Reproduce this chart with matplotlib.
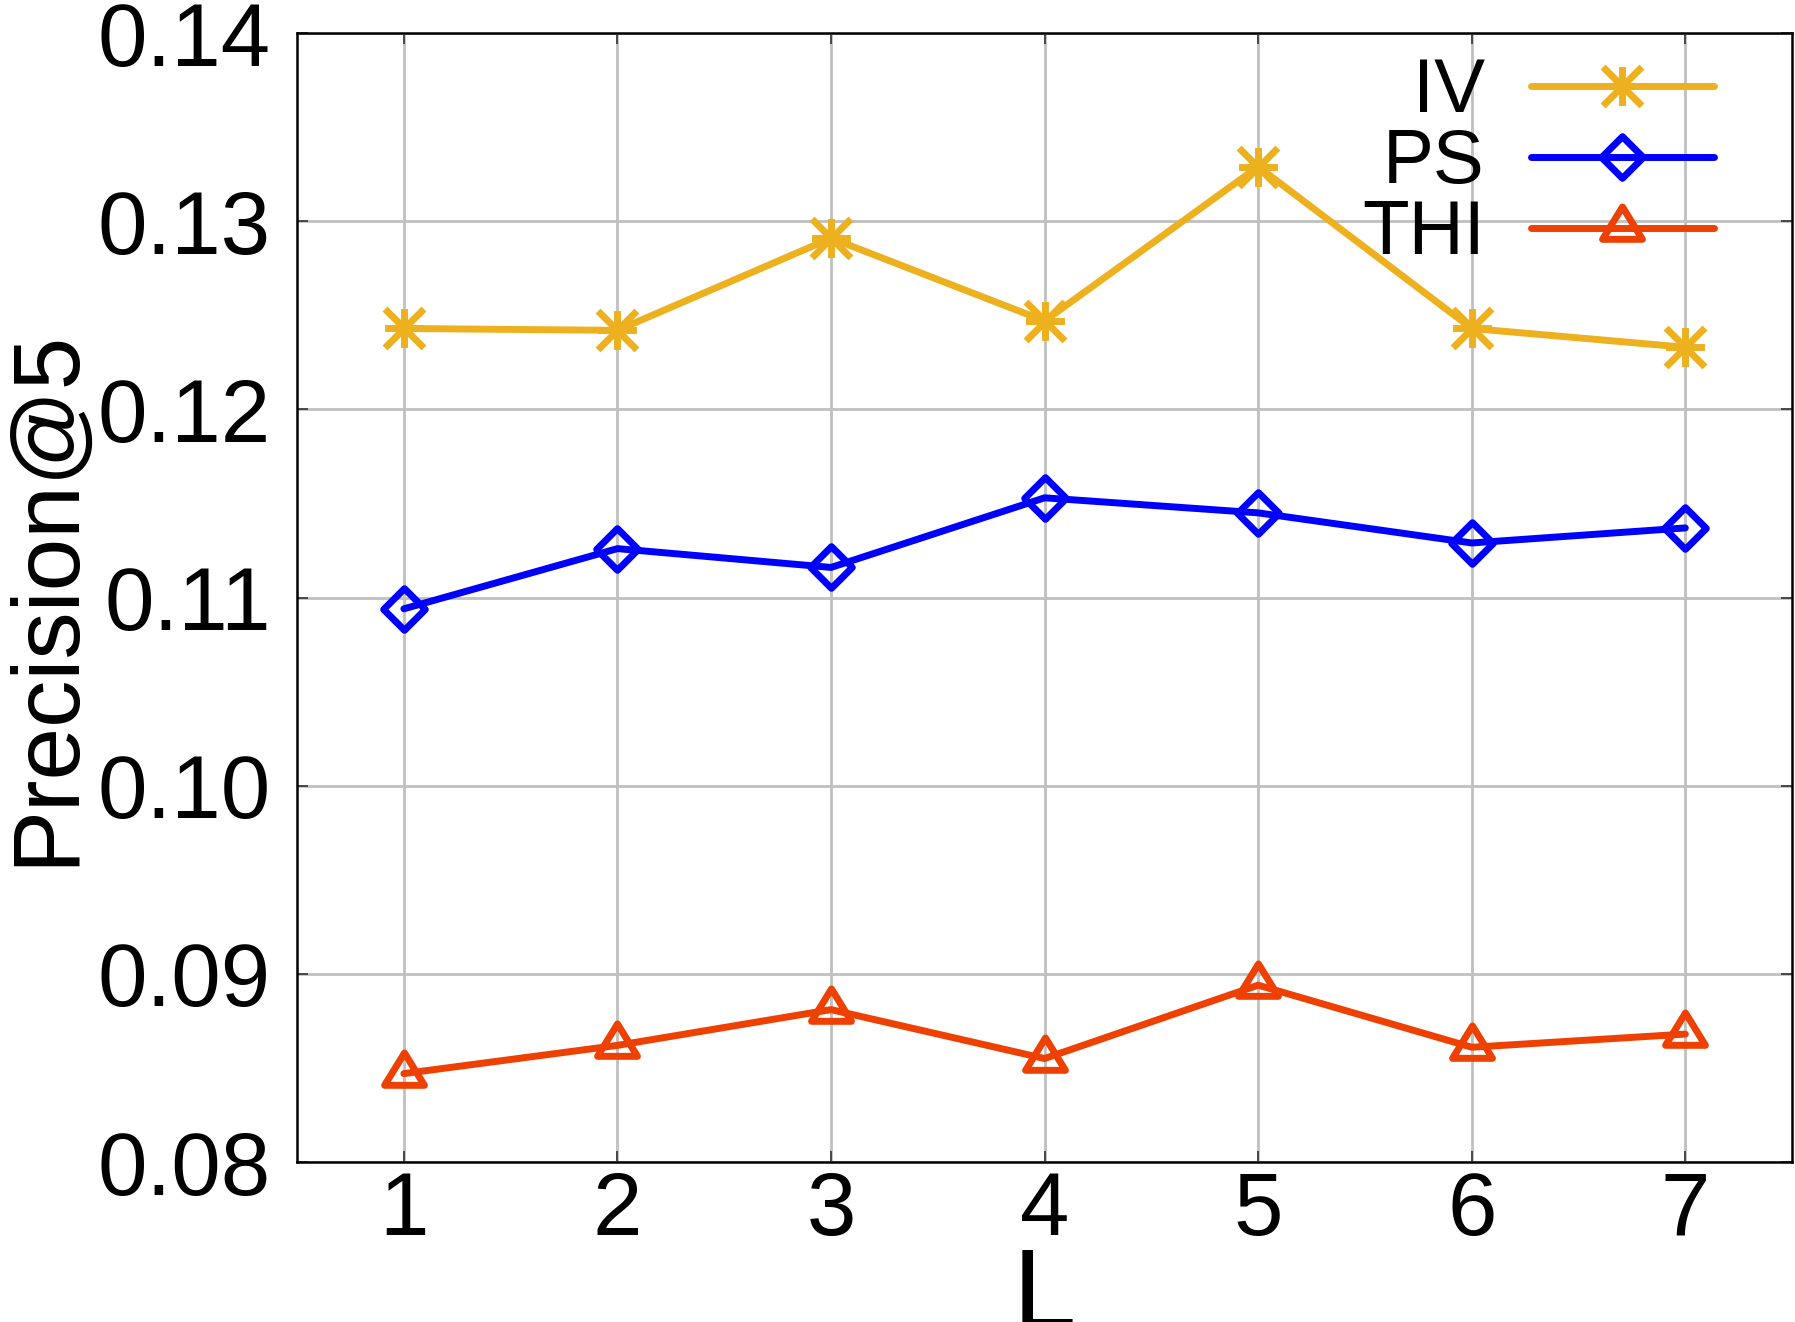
import matplotlib
matplotlib.use('Agg')
import matplotlib.pyplot as plt
from matplotlib.path import Path
from matplotlib.markers import MarkerStyle

plt.rcParams['font.family'] = ['Liberation Sans', 'DejaVu Sans']

# data
L = [1, 2, 3, 4, 5, 6, 7]
iv = [0.1243, 0.1242, 0.1291, 0.1247, 0.1329, 0.1243, 0.1233]
ps = [0.1094, 0.1126, 0.1116, 0.1153, 0.1145, 0.1129, 0.1137]
thi = [0.0847, 0.0862, 0.0881, 0.0855, 0.0894, 0.0861, 0.0868]
yticks = [0.08, 0.09, 0.10, 0.11, 0.12, 0.13, 0.14]
ytick_labels = ['0.08', '0.09', '0.10', '0.11', '0.12', '0.13', '0.14']

# gnuplot style point types
star = Path([(0, -1), (0, 1), (-1, 0), (1, 0), (-1, -1), (1, 1), (-1, 1), (1, -1)],
            [Path.MOVETO, Path.LINETO] * 4)
diamond = Path([(0, 1), (1, 0), (0, -1), (-1, 0), (0, 1)],
               [Path.MOVETO, Path.LINETO, Path.LINETO, Path.LINETO, Path.CLOSEPOLY])
# triangle centred on its centroid, like gnuplot
tri = Path([(0, 17.3), (-16, -8.7), (16, -8.7), (0, 17.3)],
           [Path.MOVETO, Path.LINETO, Path.LINETO, Path.CLOSEPOLY])

m_star = MarkerStyle(star, joinstyle='miter', capstyle='butt')
m_dia = MarkerStyle(diamond, joinstyle='miter')
m_tri = MarkerStyle(tri, joinstyle='miter')

fig = plt.figure(figsize=(17.95, 13.22), dpi=100)
ax = fig.add_axes([0.1655, 0.121, 0.8329, 0.854])

lw = 5
ax.plot(L, iv, color='#EDB120', lw=lw, marker=m_star, ms=28, mew=lw,
        mfc='none', label='IV', solid_capstyle='round', zorder=3)
ax.plot(L, ps, color='#0000FF', lw=lw, marker=m_dia, ms=30, mew=lw,
        mfc='none', label='PS', solid_capstyle='round', zorder=3)
ax.plot(L, thi, color='#EE4000', lw=lw, marker=m_tri, ms=31, mew=lw,
        mfc='none', label='THI', solid_capstyle='round', zorder=3)

ax.set_xlim(0.5, 7.5)
ax.set_ylim(0.08, 0.14)
ax.set_xticks(L)
ax.set_yticks(yticks)
ax.set_yticklabels(ytick_labels)
ax.tick_params(direction='in', length=8, width=1.2, color='#333333',
               top=True, right=True, labelsize=64)
ax.tick_params(axis='y', pad=19)
ax.tick_params(axis='x', pad=6)
ax.grid(True, color='#c0c0c0', lw=2)
ax.set_axisbelow(True)
for s in ax.spines.values():
    s.set_linewidth(1.8)

ax.set_xlabel('L', fontsize=82, labelpad=-6)
ax.set_ylabel('Precision@5', fontsize=68, labelpad=4)

leg = ax.legend(loc='upper right', bbox_to_anchor=(0.958, 0.992),
                frameon=False, markerfirst=False,
                fontsize=55, handlelength=2.4, handletextpad=0.6,
                labelspacing=0.0, borderaxespad=0.0, borderpad=0.2)
for t in leg.get_texts():
    t.set_ha('right')

fig.savefig('out.png', dpi=100)
